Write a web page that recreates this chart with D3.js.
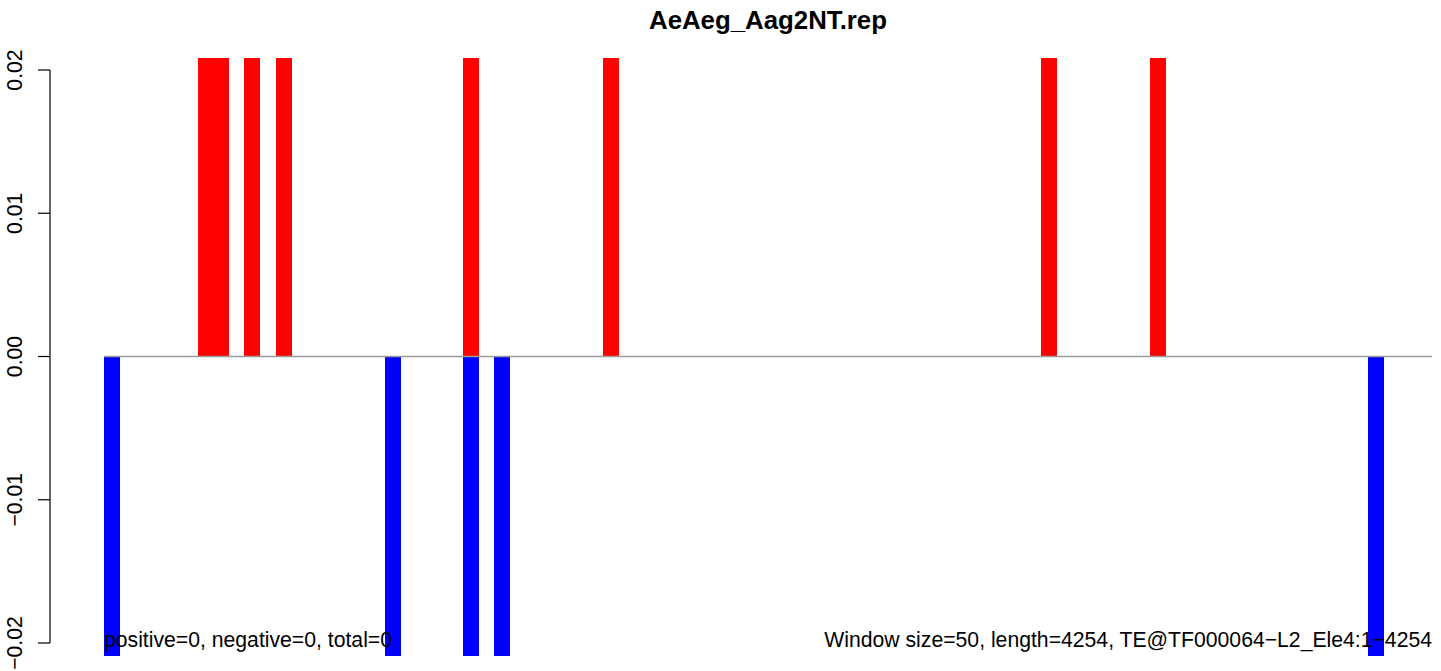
<!DOCTYPE html>
<html><head><meta charset="utf-8">
<script src="https://cdn.jsdelivr.net/npm/d3@7"></script>
<style>body{margin:0;background:#fff}svg{display:block;font-family:"Liberation Sans",Arial,sans-serif}</style>
</head><body>
<svg id="c" width="1441" height="671"></svg>
<script>
const title = "AeAeg_Aag2NT.rep";
const windowSize = 50;
const seqLength = 4254;
const posWindows = [6, 7, 9, 11, 23, 32, 60, 67];
const posValues  = [1, 1, 1, 1, 1, 1, 1, 1];
const negWindows = [0, 18, 23, 25, 81];
const negValues  = [-1, -1, -1, -1, -1];
const yTicks = [-0.02, -0.01, 0, 0.01, 0.02];
const yTickLabels = ["\u22120.02", "\u22120.01", "0.00", "0.01", "0.02"];
const leftNote = "positive=0, negative=0, total=0";
const rightNote = "Window size=50, length=4254, TE@TF000064\u2212L2_Ele4:1\u22124254";

const svg = d3.select("#c");
const x = d3.scaleLinear().domain([0, seqLength]).range([104, 1432]);
const y = d3.scaleLinear().domain([-0.02, 0.02]).range([643, 70]);
const plotTop = 58, plotBot = 656;

svg.append("defs").append("clipPath").attr("id","clip")
  .append("rect").attr("x",0).attr("y",plotTop).attr("width",1441).attr("height",plotBot-plotTop);

const g = svg.append("g").attr("clip-path","url(#clip)").attr("shape-rendering","crispEdges");
const bars = posWindows.map((w,i)=>({w, v:posValues[i], c:"#ff0000"}))
  .concat(negWindows.map((w,i)=>({w, v:negValues[i], c:"#0000ff"})));
g.selectAll("rect.bar").data(bars).enter().append("rect")
  .attr("x", d => x(d.w*windowSize))
  .attr("width", d => x((d.w+1)*windowSize) - x(d.w*windowSize) + 0.4)
  .attr("y", d => y(Math.max(0, d.v)))
  .attr("height", d => Math.abs(y(d.v) - y(0)))
  .attr("fill", d => d.c);

svg.append("line").attr("x1", x(0)).attr("x2", x(seqLength))
  .attr("y1", y(0)).attr("y2", y(0)).attr("stroke", "#9a9a9a").attr("stroke-width", 1.5);

// y axis
const ax = svg.append("g");
ax.append("line").attr("x1",50).attr("x2",50).attr("y1",y(-0.02)).attr("y2",y(0.02))
  .attr("stroke","#000").attr("stroke-width",1.2);
yTicks.forEach((t,i)=>{
  ax.append("line").attr("x1",38).attr("x2",50).attr("y1",y(t)).attr("y2",y(t))
    .attr("stroke","#000").attr("stroke-width",1.2);
  ax.append("text").attr("transform",`translate(22,${y(t)}) rotate(-90)`)
    .attr("text-anchor","middle").attr("font-size",21.2).attr("fill","#000")
    .text(yTickLabels[i]);
});

svg.append("text").attr("x",768).attr("y",29).attr("text-anchor","middle")
  .attr("font-size",25.8).attr("font-weight","bold").text(title);
svg.append("text").attr("x",104).attr("y",647).attr("font-size",21.2).text(leftNote);
svg.append("text").attr("x",1432).attr("y",647).attr("text-anchor","end").attr("font-size",21.2).text(rightNote);
</script>
</body></html>
